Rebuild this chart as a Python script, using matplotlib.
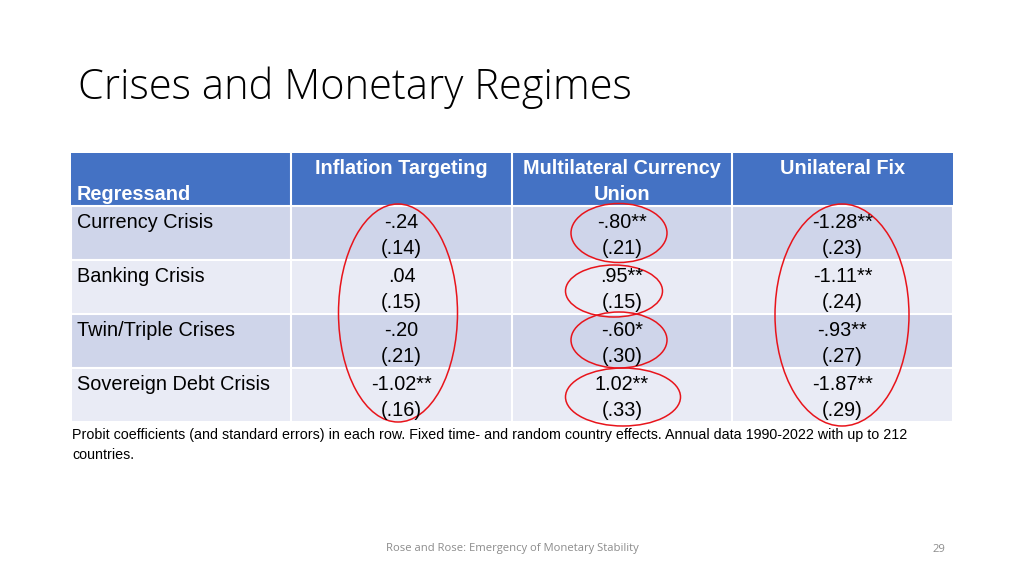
import matplotlib
matplotlib.use("Agg")
import matplotlib.pyplot as plt
from matplotlib.patches import Rectangle, Ellipse

# ---- data ----
title = "Crises and Monetary Regimes"
columns = ["Inflation Targeting", "Multilateral Currency\nUnion", "Unilateral Fix"]
row_header = "Regressand"
regressands = ["Currency Crisis", "Banking Crisis", "Twin/Triple Crises", "Sovereign Debt Crisis"]
infl_targeting_coef = ["-.24", ".04", "-.20", "-1.02**"]
infl_targeting_se = ["(.14)", "(.15)", "(.21)", "(.16)"]
multi_cu_coef = ["-.80**", ".95**", "-.60*", "1.02**"]
multi_cu_se = ["(.21)", "(.15)", "(.30)", "(.33)"]
unilateral_coef = ["-1.28**", "-1.11**", "-.93**", "-1.87**"]
unilateral_se = ["(.23)", "(.24)", "(.27)", "(.29)"]
note = ("Probit coefficients (and standard errors) in each row. Fixed time- and random country effects. "
        "Annual data 1990-2022 with up to 212\ncountries.")
footer = "Rose and Rose: Emergency of Monetary Stability"
page = "29"

coefs = [infl_targeting_coef, multi_cu_coef, unilateral_coef]
ses = [infl_targeting_se, multi_cu_se, unilateral_se]

# ---- layout ----
fig = plt.figure(figsize=(10.24, 5.76), dpi=100)
ax = fig.add_axes([0, 0, 1, 1])
ax.set_xlim(0, 1024)
ax.set_ylim(576, 0)
ax.axis("off")

FONT = ["Liberation Sans", "DejaVu Sans"]
FS = 14.3
col_x = [71, 291, 512, 732, 953]
head_top, head_bot = 153, 206
row_tops = [206, 260, 314, 368]
row_h = 54
hdr_color = "#4472C4"
row_colors = ["#CFD5EA", "#E9EBF5"]

ax.text(78, 88, title, fontsize=30, family=["Open Sans", "DejaVu Sans"], fontweight="light",
        color="black", va="center", ha="left")

# header
ax.add_patch(Rectangle((col_x[0], head_top), col_x[-1] - col_x[0], head_bot - head_top,
                       facecolor=hdr_color, edgecolor="none"))
for j in range(1, 4):
    ax.plot([col_x[j], col_x[j]], [head_top, head_bot], color="white", lw=1.5)
ax.text(77, 195, row_header, fontsize=FS, family=FONT, fontweight="bold",
        color="white", va="center", ha="left")
for j, name in enumerate(columns):
    cx = (col_x[j + 1] + col_x[j + 2]) / 2
    for k, line in enumerate(name.split("\n")):
        ax.text(cx, 168 + 27 * k, line, fontsize=FS, family=FONT, fontweight="bold",
                color="white", va="center", ha="center")

# body
for i, reg in enumerate(regressands):
    top = row_tops[i]
    ax.add_patch(Rectangle((col_x[0], top), col_x[-1] - col_x[0], row_h,
                           facecolor=row_colors[i % 2], edgecolor="white", lw=1.5))
    ax.text(77, top + 16, reg, fontsize=FS, family=FONT, color="black",
            va="center", ha="left")
    for j in range(3):
        cx = (col_x[j + 1] + col_x[j + 2]) / 2
        ax.text(cx, top + 16, coefs[j][i], fontsize=FS, family=FONT,
                color="black", va="center", ha="center")
        ax.text(cx, top + 43, ses[j][i], fontsize=FS, family=FONT,
                color="black", va="center", ha="center")
for j in range(1, 4):
    ax.plot([col_x[j], col_x[j]], [head_bot, row_tops[-1] + row_h], color="white", lw=1.5)

# red annotation ellipses
ell = [(398, 313, 119, 218), (842, 315, 134, 222),
       (619, 233, 96, 59), (614, 291, 97, 52), (619, 340, 96, 56), (623, 397, 115, 58)]
for (cx, cy, w, h) in ell:
    ax.add_patch(Ellipse((cx, cy), w, h, facecolor="none", edgecolor="#E8141B", lw=1.1))

# note
ax.text(72, 428, note, fontsize=10.3, family=["Liberation Sans Narrow", "Liberation Sans", "DejaVu Sans"],
        color="black", va="top", ha="left", linespacing=1.55)

ax.text(512, 549, footer, fontsize=8.1, family=["Open Sans", "DejaVu Sans"], color="#8C8C8C",
        va="center", ha="center")
ax.text(939, 549, page, fontsize=8.1, family=["Open Sans", "DejaVu Sans"], color="#8C8C8C",
        va="center", ha="center")

fig.savefig("out.png", dpi=100, facecolor="white")
